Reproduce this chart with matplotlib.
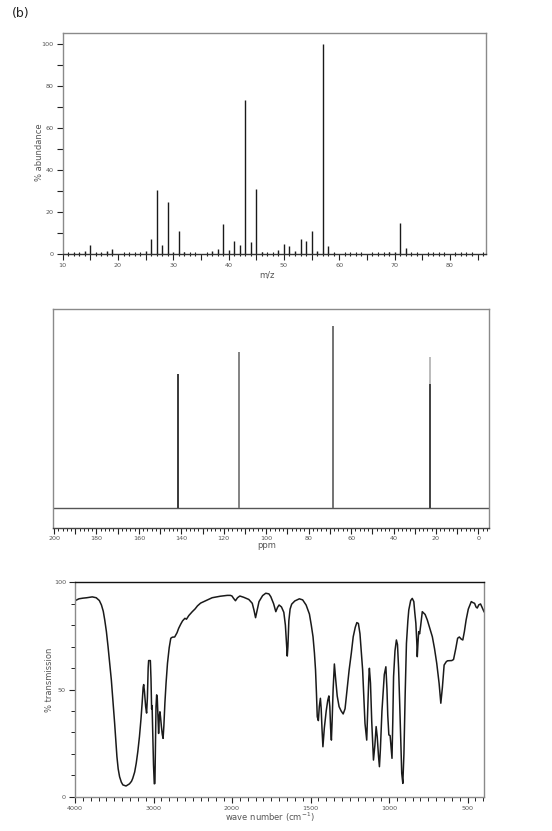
import numpy as np
import matplotlib
matplotlib.use("Agg")
import matplotlib.pyplot as plt
from matplotlib.ticker import MultipleLocator, FuncFormatter, FixedLocator

# ---------------- data ----------------
# mass spectrum
ms_mz = [12, 13, 14, 15, 16, 17, 18, 19, 25, 26, 27, 28, 29, 30, 31, 32, 37, 38, 39, 40,
         41, 42, 43, 44, 45, 46, 49, 50, 51, 52, 53, 54, 55, 56, 57, 58, 59, 69, 70, 71, 72]
ms_abund = [0.5, 0.5, 1.5, 4.3, 0.5, 0.5, 1.4, 2.2, 1.4, 7.1, 30.5, 4.3, 24.8, 1.0, 11.0, 1.0,
            1.4, 2.4, 14.1, 1.9, 6.3, 4.3, 73.5, 5.9, 31.0, 1.0, 1.9, 4.6, 3.8, 1.4, 7.1, 6.3,
            11.0, 1.4, 100.0, 3.8, 0.6, 1.0, 1.1, 14.6, 3.0]
ms_yticks = [0, 20, 40, 60, 80, 100]

# 13C NMR
nmr_ppm = [141.5, 112.7, 68.5, 23.0]
nmr_height = [73.6, 85.7, 100.0, 83.0]
nmr_colors = ['#333333', '#808080', '#6e6e6e', '#a8a8a8']
nmr_dark_height = [73.6, 85.7, 100.0, 68.0]

# IR spectrum
ir_wn = [4000, 3950, 3900, 3850, 3780, 3730, 3690, 3663, 3640, 3621, 3600, 3579, 3558, 3537,
         3515, 3495, 3480, 3466, 3450, 3432, 3410, 3390, 3350, 3306, 3280, 3264, 3240, 3220,
         3200, 3179, 3160, 3145, 3132, 3125, 3115, 3100, 3088, 3078, 3068, 3062, 3040, 3032,
         3024, 3018, 3012, 3000, 2990, 2982, 2975, 2968, 2960, 2952, 2944, 2935, 2925, 2918,
         2910, 2900, 2888, 2878, 2868, 2855, 2840, 2822, 2800, 2780, 2760, 2730, 2700, 2680,
         2653, 2630, 2600, 2580, 2550, 2506, 2470, 2440, 2400, 2336, 2253, 2150, 2060, 2020,
         2000, 1990, 1978, 1965, 1950, 1925, 1893, 1871, 1860, 1850, 1840, 1828, 1805, 1785,
         1765, 1753, 1735, 1721, 1710, 1700, 1685, 1670, 1660, 1652, 1648, 1644, 1638, 1630,
         1620, 1600, 1571, 1550, 1528, 1507, 1495, 1484, 1475, 1468, 1462, 1457, 1450, 1444,
         1437, 1432, 1427, 1421, 1412, 1400, 1390, 1383, 1377, 1372, 1367, 1362, 1356, 1348,
         1340, 1330, 1318, 1305, 1292, 1280, 1270, 1254, 1240, 1228, 1215, 1205, 1195, 1185,
         1175, 1168, 1160, 1153, 1142, 1136, 1129, 1125, 1118, 1110, 1099, 1090, 1082, 1075,
         1067, 1061, 1055, 1045, 1030, 1020, 1013, 1008, 1001, 993, 986, 981, 976, 971, 962,
         953, 946, 939, 932, 925, 919, 912, 905, 897, 889, 880, 874, 862, 852, 842, 836, 829,
         823, 820, 816, 811, 805, 798, 788, 770, 756, 740, 724, 710, 696, 681, 670, 660, 649,
         635, 627, 600, 589, 575, 563, 552, 540, 530, 520, 509, 495, 476, 465, 455, 446, 438,
         428, 417, 405, 395]
ir_t = [91.4, 92.3, 92.6, 92.8, 93.2, 92.8, 91.5, 89.4, 86.5, 82.4, 77, 70, 62, 54.4,
        44, 34.2, 26, 18.7, 13, 9.3, 6.8, 5.5, 5.0, 6.0, 7.2, 8.6, 11.5, 15.6,
        21, 28, 36, 43.6, 51, 52.3, 49, 42, 39, 46, 60, 63.5, 63.5, 55,
        41, 42.5, 33, 15, 6, 6.2, 25, 42, 47.5, 46, 38, 29.5, 38, 39.6,
        37, 33, 29, 27.2, 33, 43.6, 53, 62.2, 69.5, 73.9, 74.4, 74.5, 76.5, 78.5,
        80.5, 82, 83.2, 82.8, 84.5, 86.3, 87.6, 89, 90.3, 91.4, 92.8, 93.5, 93.9, 93.9,
        93.6, 92.5, 91.4, 92.8, 93.6, 93.0, 92.0, 90.2, 87, 83.5, 87, 91, 93.8, 94.9,
        94.6, 93.3, 90, 86.3, 88.3, 89.4, 88.5, 86, 80, 70, 65.6, 70, 82, 87.5,
        89.8, 91.3, 92.3, 91.8, 89.4, 85.2, 80, 74.6, 67, 59.1, 48, 37.3, 35.5, 42,
        45.9, 41, 32, 23.3, 32, 40, 45, 47, 42, 32, 26.4, 36, 50, 61.9,
        55, 47, 42, 40, 38.6, 41, 48, 59.1, 67, 74.6, 79, 81.2, 80.8, 76,
        66, 59.1, 46, 34.2, 26.4, 40, 55, 59.9, 53, 35, 17.1, 24, 32.7, 28,
        19, 14, 22, 40, 57, 60.6, 50, 38, 28.8, 28.5, 22, 17.9, 35, 56, 68,
        73.1, 71, 60, 43.6, 25, 10.9, 6.2, 20, 48, 71.5, 82, 87.1, 91.5, 92.5, 91, 86, 80.9,
        72, 65.3, 71, 77, 76, 80, 86.3, 85, 82.4, 78.5, 74.6, 69, 62.2, 52.9, 43.6, 51, 61.4,
        63, 63.4, 63.5, 64, 69, 73.9, 74.5, 73.5, 73.1, 77, 82.4, 87.5, 91, 90.5, 90.2, 88.5, 88,
        89.5, 89.9, 88, 86.3]
ir_xticks = [4000, 3000, 2000, 1500, 1000, 500]
ir_yticks = [0, 50, 100]

# ---------------- figure ----------------
W, H = 552, 831
fig = plt.figure(figsize=(W / 100, H / 100), dpi=100)
plt.rcParams['font.family'] = ['DejaVu Sans']

tick_col = '#555555'
frame_col = '#8a8a8a'
fs_tick = 4.6
fs_lab = 6


def ax_px(l, t, r, b):
    return fig.add_axes([l / W, 1 - b / H, (r - l) / W, (b - t) / H])


# ---- top: mass spectrum ----
ax1 = ax_px(62.7, 33.3, 486.4, 254)
ax1.vlines(ms_mz, 0, ms_abund, color='#1a1a1a', lw=1.0)
ax1.set_xlim(10, 86.6)
ax1.set_ylim(0, 105.1)
for s in ax1.spines.values():
    s.set_color(frame_col)
    s.set_linewidth(1.0)
ax1.spines['bottom'].set_color('#333333')
ax1.xaxis.set_major_locator(MultipleLocator(5))
ax1.xaxis.set_major_formatter(FuncFormatter(lambda v, p: f"{int(round(v))}" if int(round(v)) % 10 == 0 else ""))
ax1.xaxis.set_minor_locator(MultipleLocator(1))
ax1.yaxis.set_major_locator(FixedLocator(ms_yticks))
ax1.yaxis.set_minor_locator(MultipleLocator(10))
ax1.tick_params(axis='x', which='major', direction='out', length=4.5, width=0.8, color='#222',
                labelsize=fs_tick, labelcolor=tick_col, pad=2)
ax1.tick_params(axis='x', which='minor', direction='inout', length=3, width=0.8, color='#222')
ax1.tick_params(axis='y', which='both', direction='out', length=4.5, width=0.8, color='#222',
                labelsize=fs_tick, labelcolor=tick_col, pad=2)
fig.text(267 / W, 1 - 275 / H, 'm/z', ha='center', va='center', fontsize=fs_lab, color=tick_col)
fig.text(40 / W, 1 - 152 / H, '% abundance', ha='center', va='center', rotation=90,
         fontsize=fs_lab, color=tick_col)

# ---- middle: 13C NMR ----
ax2 = ax_px(53, 309, 489, 528)
ax2.axhline(0, color='#555555', lw=1.0)
ax2.vlines(nmr_ppm, 0, nmr_height, colors=nmr_colors, lw=1.1)
ax2.vlines(nmr_ppm, 0, nmr_dark_height, colors=nmr_colors[:3] + ['#222222'], lw=1.1)
ax2.set_xlim(200.5, -5)
ax2.set_ylim(-11.0, 109.3)
for s in ax2.spines.values():
    s.set_color(frame_col)
    s.set_linewidth(1.0)
ax2.spines['bottom'].set_color('#444444')
ax2.set_yticks([])
ax2.xaxis.set_major_locator(MultipleLocator(10))
ax2.xaxis.set_major_formatter(FuncFormatter(lambda v, p: f"{int(round(v))}" if int(round(v)) % 20 == 0 else ""))
ax2.xaxis.set_minor_locator(MultipleLocator(2))
ax2.tick_params(axis='x', which='major', direction='out', length=4, width=0.8, color='#222',
                labelsize=fs_tick, labelcolor=tick_col, pad=2)
ax2.tick_params(axis='x', which='minor', direction='out', length=2.2, width=0.7, color='#222')
fig.text(267 / W, 1 - 546 / H, 'ppm', ha='center', va='center', fontsize=fs_lab, color=tick_col)

# ---- bottom: IR (scale halves above 2000 cm-1) ----
def fwd(w):
    w = np.asarray(w, float)
    return np.where(w >= 2000, 2000 + (w - 2000) / 2.0, w)


def inv(p):
    p = np.asarray(p, float)
    return np.where(p >= 2000, 2000 + 2.0 * (p - 2000), p)


ax3 = ax_px(75, 582.3, 484, 796.7)
ax3.set_xscale('function', functions=(fwd, inv))
ax3.plot(ir_wn, ir_t, color='#1a1a1a', lw=1.1)
ax3.set_xlim(4000, 395)
ax3.set_ylim(0, 100)
for s in ax3.spines.values():
    s.set_color(frame_col)
    s.set_linewidth(1.0)
ax3.spines['top'].set_color('#111111')
ax3.xaxis.set_major_locator(FixedLocator(ir_xticks))
ax3.xaxis.set_major_formatter(FuncFormatter(lambda v, p: f"{int(round(v))}"))
minor_x = list(range(3900, 2000, -100)) + [v for v in range(1950, 395, -50) if v % 500 != 0]
ax3.xaxis.set_minor_locator(FixedLocator(minor_x))
ax3.yaxis.set_major_locator(FixedLocator(ir_yticks))
ax3.yaxis.set_minor_locator(MultipleLocator(10))
ax3.tick_params(axis='x', which='major', direction='out', length=4.5, width=0.8, color='#222',
                labelsize=fs_tick, labelcolor=tick_col, pad=2)
ax3.tick_params(axis='x', which='minor', direction='out', length=3, width=0.7, color='#222')
ax3.tick_params(axis='y', which='major', direction='out', length=4.5, width=0.8, color='#222',
                labelsize=fs_tick, labelcolor=tick_col, pad=2)
ax3.tick_params(axis='y', which='minor', direction='out', length=3, width=0.7, color='#222')
fig.text(270 / W, 1 - 817 / H, 'wave number (cm$^{-1}$)', ha='center', va='center',
         fontsize=fs_lab, color=tick_col)
fig.text(50 / W, 1 - 680 / H, '% transmission', ha='center', va='center', rotation=90,
         fontsize=fs_lab, color=tick_col)

fig.text(12 / W, 1 - 14 / H, '(b)', ha='left', va='center', fontsize=9, color='#222222')

fig.savefig('out.png', dpi=100)
